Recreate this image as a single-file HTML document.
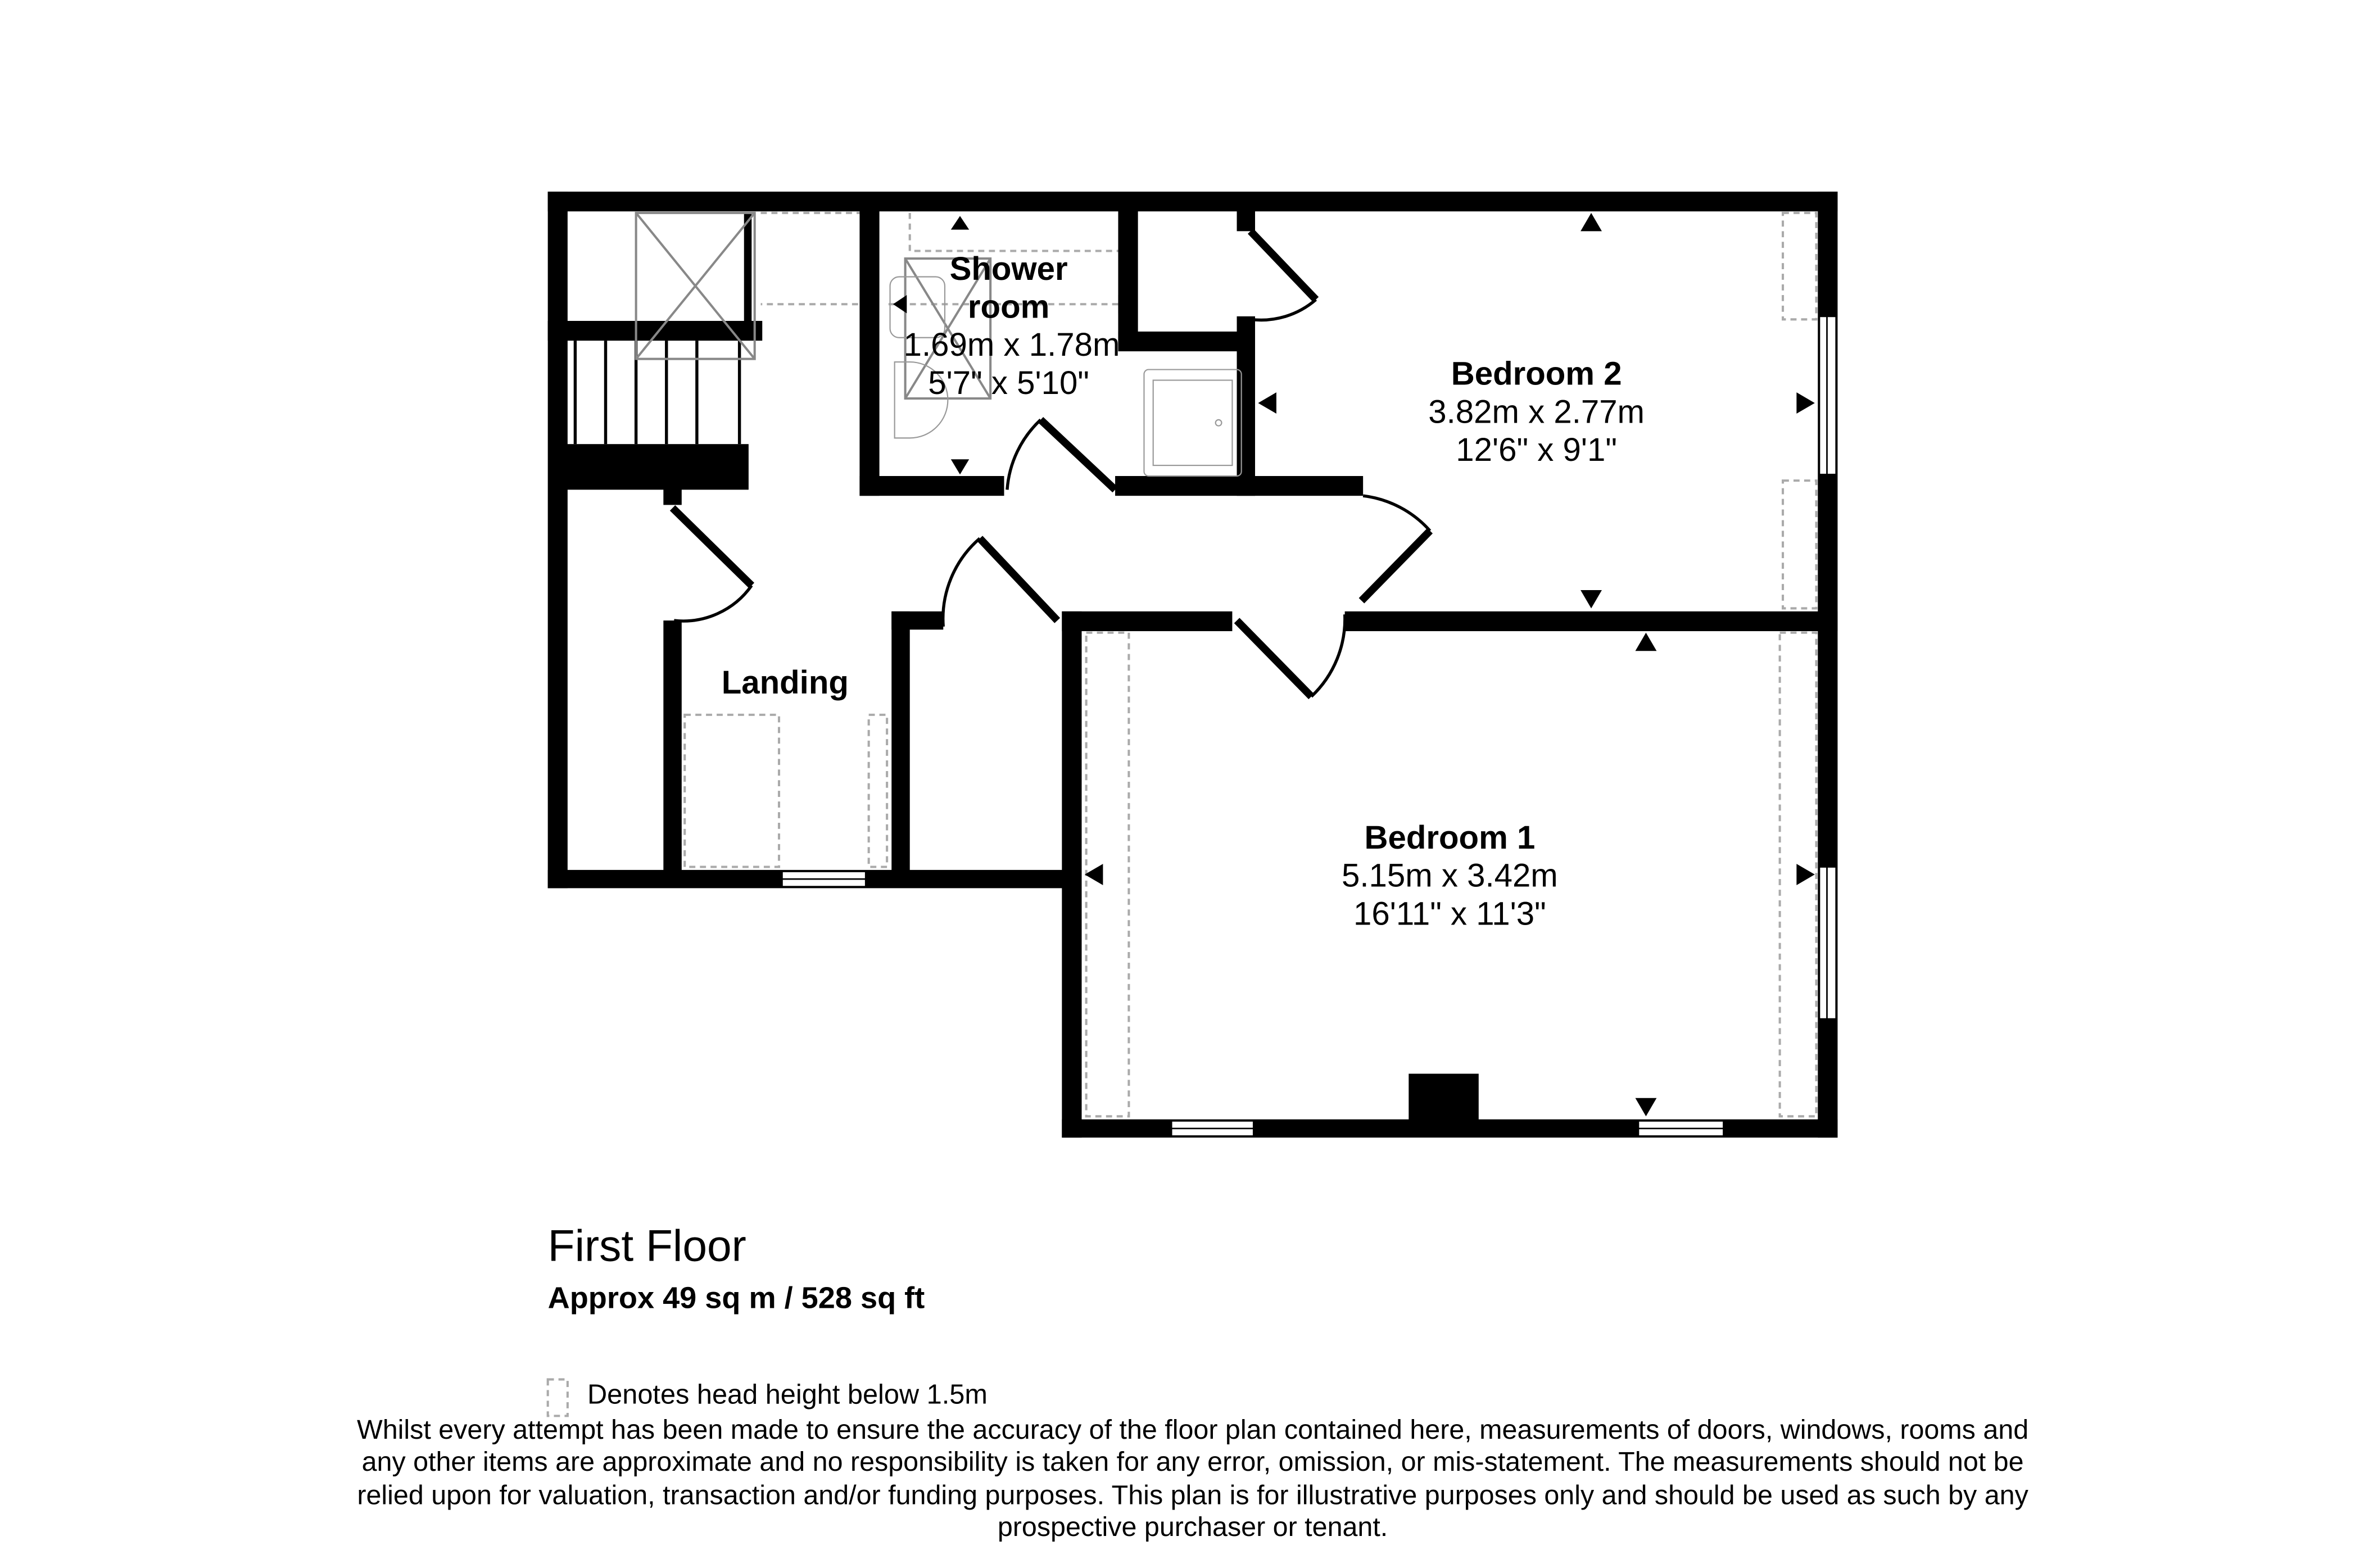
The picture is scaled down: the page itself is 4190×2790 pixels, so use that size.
<!DOCTYPE html>
<html><head><meta charset="utf-8"><style>html,body{margin:0;padding:0;background:#fff}svg{display:block}</style></head>
<body>
<svg width="4190" height="2790" viewBox="0 0 1548 1031" xmlns="http://www.w3.org/2000/svg" font-family="Liberation Sans, Arial, sans-serif">
<rect width="1548" height="1031" fill="#fff"/>
<g fill="none" stroke="#aaa" stroke-width="1.5" stroke-dasharray="4,3">
<path d="M500 140 H572 V200 H500"/>
<path d="M598 140 V165 H745 V200 H584"/>
<rect x="1172" y="140" width="22" height="70"/>
<rect x="1172" y="316" width="22" height="84"/>
<rect x="714" y="416" width="28" height="318"/>
<rect x="1170" y="416" width="24" height="318"/>
<rect x="450" y="470" width="62" height="100"/>
<rect x="571" y="470" width="12" height="100"/>
<rect x="360" y="907" width="13" height="24"/>
</g>
<g fill="#000">
<rect x="360" y="126" width="848" height="13"/>
<rect x="360" y="126" width="13" height="458"/>
<rect x="360" y="572" width="340" height="12"/>
<rect x="1195" y="126" width="13" height="622"/>
<rect x="698" y="736" width="510" height="12"/>
<rect x="698" y="402" width="13" height="346"/>
<rect x="698" y="402" width="112" height="13"/>
<rect x="884" y="402" width="324" height="13"/>
<rect x="360" y="211" width="141" height="13"/>
<rect x="372" y="292" width="120" height="30"/>
<rect x="436" y="310" width="12" height="22"/>
<rect x="436" y="408" width="12" height="168"/>
<rect x="586" y="402" width="12" height="174"/>
<rect x="586" y="402" width="34" height="12"/>
<rect x="565" y="138" width="13" height="188"/>
<rect x="565" y="313" width="95" height="13"/>
<rect x="733" y="313" width="163" height="13"/>
<rect x="735" y="138" width="13" height="92"/>
<rect x="735" y="218" width="82" height="13"/>
<rect x="813" y="138" width="12" height="14"/>
<rect x="813" y="208" width="12" height="118"/>
<rect x="926" y="706" width="46" height="32"/>
<path d="M489 140h5v80h-5z"/>
</g>
<g fill="#fff" stroke="#000" stroke-width="1">
<rect x="514" y="573" width="55" height="10"/>
<rect x="770" y="737" width="54" height="10"/>
<rect x="1077" y="737" width="56" height="10"/>
<rect x="1196" y="208" width="11" height="104"/>
<rect x="1196" y="570" width="11" height="100"/>
</g>
<g stroke="#000" stroke-width="1"><line x1="514" y1="578" x2="569" y2="578"/><line x1="770" y1="742" x2="824" y2="742"/><line x1="1077" y1="742" x2="1133" y2="742"/><line x1="1201" y1="208" x2="1201" y2="312"/><line x1="1201" y1="570" x2="1201" y2="670"/></g>
<g stroke="#000" stroke-width="2"><line x1="378" y1="224" x2="378" y2="292"/><line x1="398" y1="224" x2="398" y2="292"/><line x1="418" y1="224" x2="418" y2="292"/><line x1="438" y1="224" x2="438" y2="292"/><line x1="458" y1="224" x2="458" y2="292"/><line x1="486" y1="224" x2="486" y2="292"/></g>
<g stroke="#888" stroke-width="1.5" fill="none"><rect x="418" y="140" width="78" height="96"/><line x1="418" y1="140" x2="496" y2="236"/><line x1="496" y1="140" x2="418" y2="236"/>
<rect x="595" y="170" width="56" height="92"/><line x1="595" y1="170" x2="651" y2="262"/><line x1="651" y1="170" x2="595" y2="262"/></g>
<g stroke="#999" stroke-width="0.8" fill="none"><rect x="752" y="243" width="64" height="70" rx="3"/><rect x="758" y="250" width="52" height="56"/><circle cx="801" cy="278" r="2"/>
<path d="M588 238h10a14 14 0 0 1 0 50h-10z"/><rect x="585" y="182" width="36" height="40" rx="6"/></g>
<g stroke="#000" fill="none">
<line x1="442" y1="334" x2="494" y2="385" stroke-width="5"/><path d="M494 385 A55 55 0 0 1 443 408" stroke-width="2"/>
<line x1="644" y1="354" x2="695" y2="408" stroke-width="5"/><path d="M644 354 A70 70 0 0 0 620 412" stroke-width="2"/>
<line x1="684" y1="276" x2="733" y2="322" stroke-width="5"/><path d="M684 276 A70 70 0 0 0 662 322" stroke-width="2"/>
<line x1="822" y1="152" x2="865" y2="197" stroke-width="5"/><path d="M865 197 A55 55 0 0 1 822 210" stroke-width="2"/>
<line x1="895" y1="395" x2="940" y2="349" stroke-width="5"/><path d="M940 349 A70 70 0 0 0 896 326" stroke-width="2"/>
<line x1="813" y1="408" x2="862" y2="458" stroke-width="5"/><path d="M862 458 A70 70 0 0 0 884 404" stroke-width="2"/>
</g>
<g fill="#000">
<path d="M631 142l-6 9h12z"/><path d="M631 312l-6-10h12z"/><path d="M587 200l9-6v12z"/><path d="M744 200l-9-6v12z"/>
<path d="M1046 140l-7 12h14z"/><path d="M1046 400l-7-12h14z"/><path d="M827 265l12-7v14z"/><path d="M1193 265l-12-7v14z"/>
<path d="M1082 416l-7 12h14z"/><path d="M1082 734l-7-12h14z"/><path d="M713 575l12-7v14z"/><path d="M1193 575l-12-7v14z"/>
</g>
<g text-anchor="middle" fill="#000" font-size="21.5">
<text x="663" y="184" font-weight="bold">Shower</text><text x="663" y="209" font-weight="bold">room</text>
<text x="665" y="234">1.69m x 1.78m</text><text x="663" y="259">5'7" x 5'10"</text>
<text x="1010" y="253" font-weight="bold">Bedroom 2</text><text x="1010" y="278">3.82m x 2.77m</text><text x="1010" y="303">12'6" x 9'1"</text>
<text x="953" y="558" font-weight="bold">Bedroom 1</text><text x="953" y="583">5.15m x 3.42m</text><text x="953" y="608">16'11" x 11'3"</text>
<text x="516" y="456" font-weight="bold">Landing</text>
</g>
<text x="360" y="829" font-size="29">First Floor</text>
<text x="360" y="860" font-size="20" font-weight="bold">Approx 49 sq m / 528 sq ft</text>
<text x="386" y="923" font-size="18">Denotes head height below 1.5m</text>
<g text-anchor="middle" font-size="17.9">
<text x="784" y="946">Whilst every attempt has been made to ensure the accuracy of the floor plan contained here, measurements of doors, windows, rooms and</text>
<text x="784" y="967">any other items are approximate and no responsibility is taken for any error, omission, or mis-statement. The measurements should not be</text>
<text x="784" y="989">relied upon for valuation, transaction and/or funding purposes. This plan is for illustrative purposes only and should be used as such by any</text>
<text x="784" y="1010">prospective purchaser or tenant.</text>
</g>
</svg>
</body></html>
